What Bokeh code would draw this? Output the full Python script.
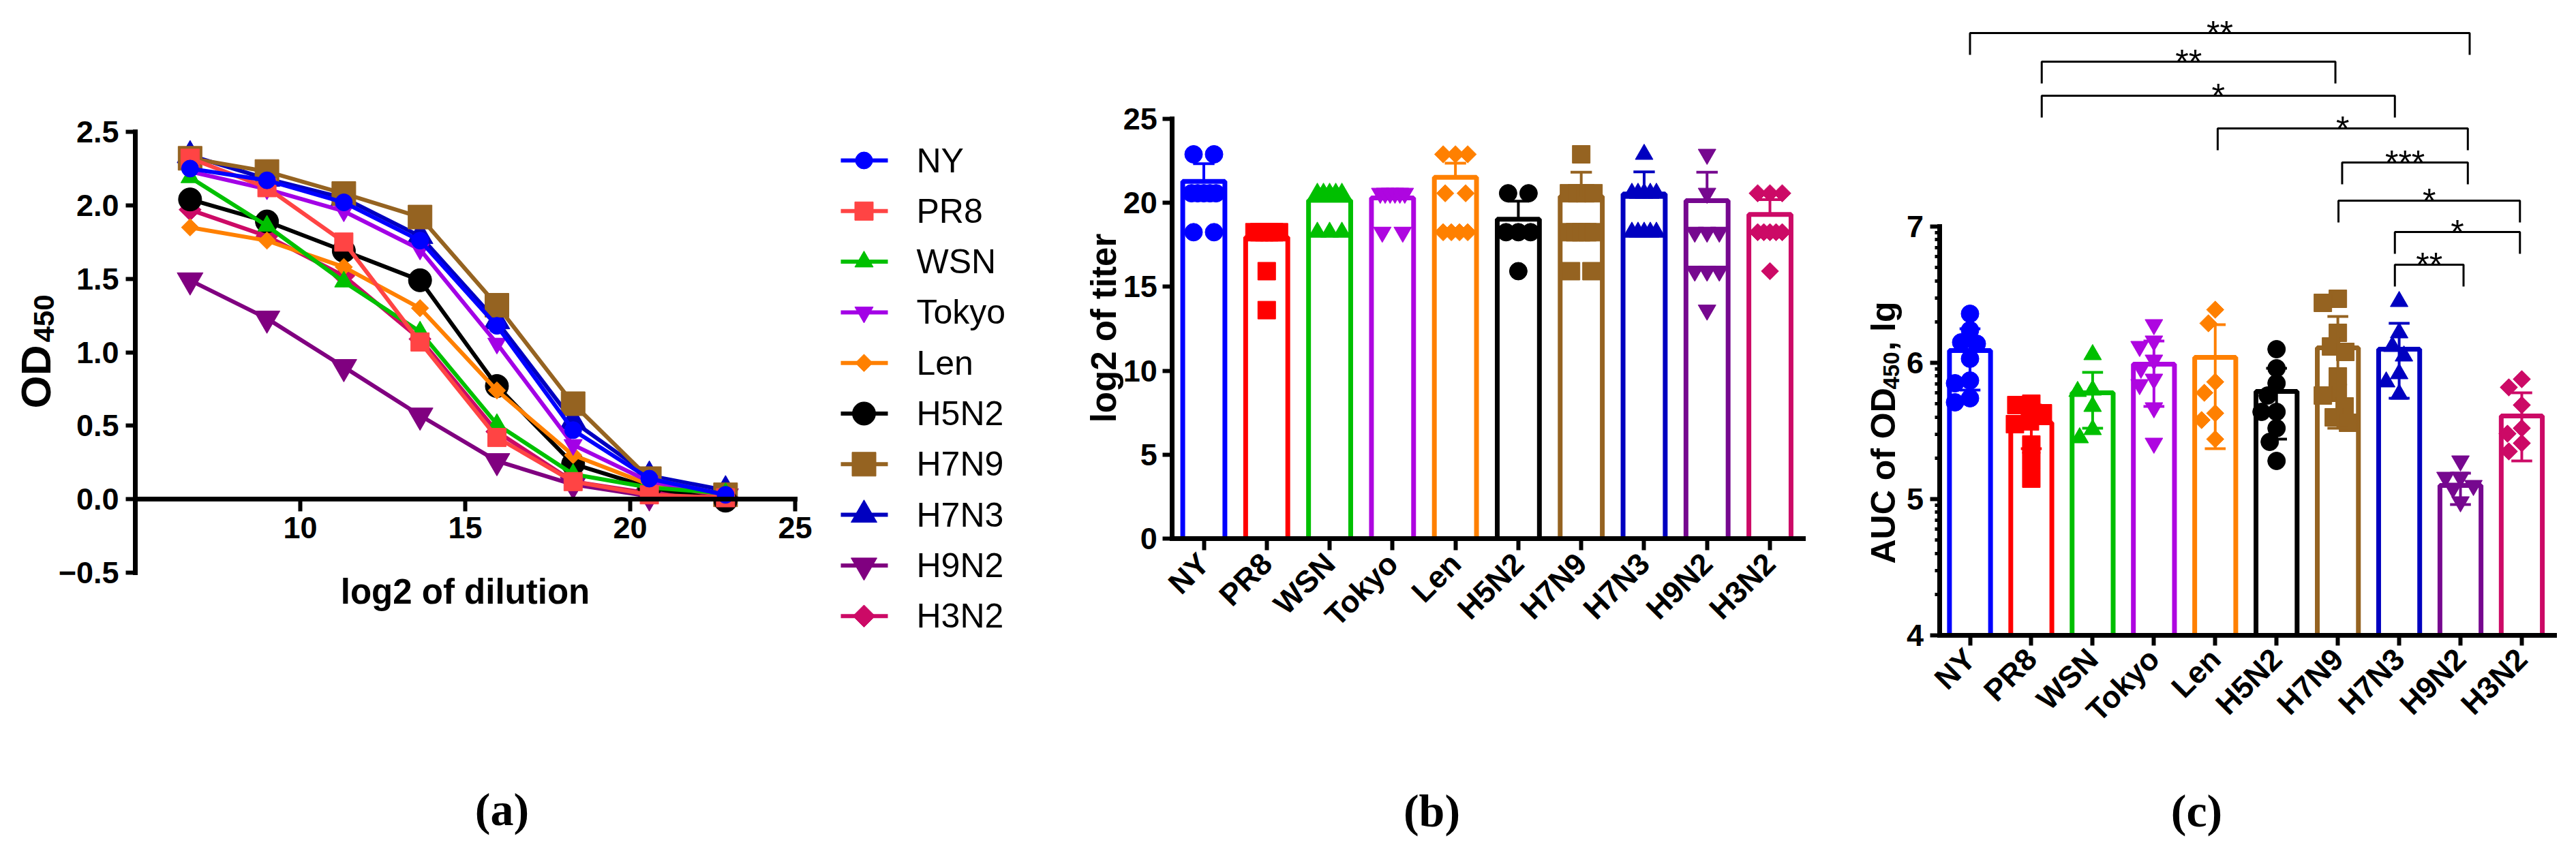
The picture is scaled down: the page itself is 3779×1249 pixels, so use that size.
import math
from collections import defaultdict

from bokeh.core.properties import value
from bokeh.embed import file_html
from bokeh.layouts import row
from bokeh.models import CustomJSTickFormatter, FixedTicker, Label, Range1d
from bokeh.plotting import figure
from bokeh.resources import INLINE

STRAINS = ["NY", "PR8", "WSN", "Tokyo", "Len", "H5N2", "H7N9", "H7N3", "H9N2", "H3N2"]

# (a) OD450 read at each log2 dilution
DILUTION_LOG2 = [6.66, 8.99, 11.32, 13.63, 15.96, 18.27, 20.58, 22.89]
od_ny = [2.25, 2.17, 2.02, 1.76, 1.18, 0.47, 0.14, 0.03]
od_pr8 = [2.32, 2.12, 1.75, 1.07, 0.42, 0.12, 0.03, 0.01]
od_wsn = [2.19, 1.86, 1.48, 1.14, 0.51, 0.17, 0.08, 0.04]
od_tokyo = [2.23, 2.11, 1.96, 1.70, 1.06, 0.37, 0.12, 0.03]
od_len = [1.85, 1.76, 1.58, 1.30, 0.74, 0.30, 0.10, 0.03]
od_h5n2 = [2.04, 1.89, 1.69, 1.49, 0.77, 0.24, 0.08, -0.01]
od_h7n9 = [2.32, 2.23, 2.08, 1.92, 1.32, 0.65, 0.14, 0.03]
od_h7n3 = [2.34, 2.18, 2.05, 1.79, 1.21, 0.53, 0.16, 0.06]
od_h9n2 = [1.49, 1.23, 0.90, 0.57, 0.26, 0.10, 0.02, 0.02]
od_h3n2 = [1.97, 1.79, 1.52, 1.09, 0.46, 0.12, 0.04, 0.03]

# (b) log2 of titer, single animals and bar heights
titer_ny = [22.89, 22.89, 20.57, 20.57, 20.57, 20.57, 20.57, 18.25, 18.25]
titer_pr8 = [18.25, 18.25, 18.25, 18.25, 18.25, 18.25, 15.93, 13.61]
titer_wsn = [20.57, 20.57, 20.57, 20.57, 20.57, 18.25, 18.25, 18.25]
titer_tokyo = [20.57, 20.57, 20.57, 20.57, 20.57, 20.57, 18.25, 18.25]
titer_len = [22.89, 22.89, 22.89, 20.57, 20.57, 18.25, 18.25, 18.25, 18.25]
titer_h5n2 = [20.57, 20.57, 18.25, 18.25, 18.25, 15.93]
titer_h7n9 = [22.89, 20.57, 20.57, 20.57, 20.57, 18.25, 18.25, 18.25, 18.25, 18.25, 15.93, 15.93]
titer_h7n3 = [22.89, 20.57, 20.57, 20.57, 20.57, 20.57, 18.25, 18.25, 18.25, 18.25, 18.25]
titer_h9n2 = [22.89, 20.57, 18.25, 18.25, 18.25, 15.93, 15.93, 15.93, 13.61]
titer_h3n2 = [20.57, 20.57, 20.57, 18.25, 18.25, 18.25, 18.25, 18.25, 15.93]
TITER_MEAN = [21.28, 17.95, 20.15, 20.29, 21.52, 19.02, 20.38, 20.53, 20.13, 19.31]
TITER_ERR_TOP = [22.33, 18.25, 20.57, 20.77, 22.36, 20.10, 21.82, 21.84, 21.82, 20.19]

# (c) AUC of OD450 (lg), single animals and bar heights
auc_ny = [6.36, 6.24, 6.15, 6.14, 6.03, 5.87, 5.85, 5.74, 5.71]
auc_pr8 = [5.70, 5.69, 5.63, 5.57, 5.55, 5.40, 5.28, 5.15]
auc_wsn = [6.06, 5.80, 5.79, 5.68, 5.51, 5.45]
auc_tokyo = [6.28, 6.16, 6.12, 6.02, 5.96, 5.88, 5.84, 5.67, 5.41]
auc_len = [6.39, 6.29, 5.86, 5.78, 5.63, 5.58, 5.44]
auc_h5n2 = [6.10, 5.96, 5.85, 5.76, 5.64, 5.64, 5.52, 5.42, 5.28]
auc_h7n9 = [6.47, 6.44, 6.22, 6.12, 6.08, 5.90, 5.78, 5.76, 5.68, 5.60, 5.56]
auc_h7n3 = [6.45, 6.22, 6.12, 6.05, 5.92, 5.86, 5.77]
auc_h9n2 = [5.28, 5.16, 5.16, 5.10, 5.08, 4.98]
auc_h3n2 = [5.88, 5.82, 5.69, 5.52, 5.48, 5.41, 5.35]
AUC_MEAN = [6.09, 5.56, 5.78, 5.99, 6.04, 5.79, 6.11, 6.10, 5.10, 5.61]
AUC_ERR_HI = [6.25, 5.69, 5.93, 6.16, 6.28, 5.96, 6.34, 6.29, 5.19, 5.78]
AUC_ERR_LO = [5.80, 5.37, 5.52, 5.68, 5.37, 5.44, 5.52, 5.74, 4.96, 5.28]

# significance brackets of (c): ends in category units, level in lg units
BRACKET_LEFT = [0.0, 1.17, 1.17, 4.04, 6.07, 6.01, 6.93, 6.93]
BRACKET_RIGHT = [8.15, 5.96, 6.93, 8.12, 8.12, 8.97, 8.97, 8.05]
BRACKET_LEVEL = [8.42, 8.21, 7.96, 7.72, 7.47, 7.19, 6.96, 6.72]
BRACKET_STARS = ["**", "**", "*", "*", "***", "*", "*", "**"]

OD = [od_ny, od_pr8, od_wsn, od_tokyo, od_len, od_h5n2, od_h7n9, od_h7n3, od_h9n2, od_h3n2]
TITER = [titer_ny, titer_pr8, titer_wsn, titer_tokyo, titer_len, titer_h5n2,
         titer_h7n9, titer_h7n3, titer_h9n2, titer_h3n2]
AUC = [auc_ny, auc_pr8, auc_wsn, auc_tokyo, auc_len, auc_h5n2, auc_h7n9,
       auc_h7n3, auc_h9n2, auc_h3n2]

COLORS_A = ["#0000FF", "#FF4444", "#00C000", "#A300E6", "#FF8000",
            "#000000", "#956321", "#0000C0", "#800080", "#CC0A66"]
COLORS_BC = ["#0000FF", "#FF0000", "#00BF00", "#AE06E0", "#FF8000",
             "#000000", "#956321", "#0000C0", "#76088F", "#CC0A66"]
MARKERS = ["circle", "square", "triangle", "inverted_triangle", "diamond",
           "circle", "square", "triangle", "inverted_triangle", "diamond"]
SIZES_A = [25, 27, 27, 27, 18, 34, 35, 38, 38, 23]

SANS = "Liberation Sans"
SERIF = "Liberation Serif"
PAGE_TOP, PAGE_BOTTOM = 8, 1241


def mapper(xv, xpage, ppu_x, yv, ypage, ppu_y):
    # page pixel -> data value, for placing texts next to the axes
    def fx(px):
        return xv + (px - xpage) / ppu_x

    def fy(py):
        return yv + (ypage - py) / ppu_y
    return fx, fy


def new_figure(left, width, fx, fy):
    p = figure(width=width, height=PAGE_BOTTOM - PAGE_TOP, title=None,
               x_range=Range1d(fx(left), fx(left + width)),
               y_range=Range1d(fy(PAGE_BOTTOM), fy(PAGE_TOP)),
               output_backend="svg", toolbar_location=None,
               min_border_left=0, min_border_right=0,
               min_border_top=0, min_border_bottom=0)
    p.outline_line_color = None
    p.grid.visible = False
    p.background_fill_color = "white"
    return p


def draw_marker(p, x, y, kind, size, color):
    if kind == "diamond":
        return p.scatter(x, y, marker="square", angle=math.pi / 4, size=size,
                         fill_color=color, line_color=color)
    return p.scatter(x, y, marker=kind, size=size, fill_color=color, line_color=color)


def style_axis(ax, tick_out=14, standoff=10):
    ax.axis_line_width = 7
    ax.axis_line_color = "black"
    ax.axis_line_cap = "square"
    ax.major_tick_line_width = 6
    ax.major_tick_line_color = "black"
    ax.major_tick_out = tick_out
    ax.major_tick_in = 0
    ax.minor_tick_line_color = None
    ax.major_label_standoff = standoff
    ax.major_label_text_font = SANS
    ax.major_label_text_font_size = "45px"
    ax.major_label_text_font_style = "bold"
    ax.major_label_text_color = "black"


def text_label(p, x, y, text, size, angle=0.0, align="left",
               baseline="alphabetic", font=SANS, style="bold"):
    p.add_layout(Label(x=x, y=y, text=text, angle=angle, text_align=align,
                       text_baseline=baseline, text_font=font, text_font_size=size,
                       text_font_style=style, text_color="black"))


def row_offsets(vals, px_per_unit):
    # points that share a titer are spread across the bar
    groups = defaultdict(list)
    for i, v in enumerate(vals):
        groups[v].append(i)
    offs = [0.0] * len(vals)
    for idx in groups.values():
        n = len(idx)
        gap = min(30.0, 36.0 / (n - 1)) if n > 1 else 0.0
        for k, i in enumerate(idx):
            offs[i] = (k - (n - 1) / 2) * gap / px_per_unit
    return offs


def swarm_offsets(vals, px_x, px_y, dist=22, limit=30):
    placed = []
    offs = [0.0] * len(vals)
    cands = sorted(range(-limit, limit + 1), key=lambda c: (abs(c), c))
    for i in sorted(range(len(vals)), key=lambda j: -vals[j]):
        y = vals[i] * px_y
        best, best_d = 0, -1.0
        for c in cands:
            d = min((math.hypot(c - qx, y - qy) for qx, qy in placed), default=1e9)
            if d >= dist:
                best = c
                break
            if d > best_d:
                best_d, best = d, c
        placed.append((best, y))
        offs[i] = best / px_x
    return offs


# ---------------- (a) ----------------
fxa, fya = mapper(25, 1174, 48.4, 2.5, 201, 215.67)
pa = new_figure(8, 1532, fxa, fya)
style_axis(pa.xaxis[0], tick_out=18, standoff=8)
style_axis(pa.yaxis[0], tick_out=14, standoff=10)
pa.xaxis.fixed_location = 0
pa.xaxis.bounds = (5, 25)
pa.yaxis.fixed_location = 5
pa.yaxis.bounds = (-0.5, 2.5)
pa.xaxis.ticker = FixedTicker(ticks=[10, 15, 20, 25])
pa.yaxis.ticker = FixedTicker(ticks=[-0.5, 0, 0.5, 1, 1.5, 2, 2.5])
pa.yaxis.formatter = CustomJSTickFormatter(code="return tick.toFixed(1).replace('-', '\u2212');")

for i in reversed(range(len(STRAINS))):
    pa.line(DILUTION_LOG2, OD[i], line_color=COLORS_A[i], line_width=6)
    draw_marker(pa, DILUTION_LOG2, OD[i], MARKERS[i], SIZES_A[i], COLORS_A[i])

# legend, drawn as swatches beside the plot
rows_y = [fya(243 + 74.3 * k) for k in range(len(STRAINS))]
pa.segment(x0=fxa(1241), x1=fxa(1310), y0=rows_y, y1=rows_y,
           line_color=COLORS_A, line_width=6)
for i in range(len(STRAINS)):
    draw_marker(pa, [fxa(1275)], [rows_y[i]], MARKERS[i], SIZES_A[i], COLORS_A[i])
pa.text(x=fxa(1352), y=rows_y, text=STRAINS, text_align="left", text_baseline="middle",
        text_font=value(SANS), text_font_size="50px", text_color="black")

text_label(pa, fxa(60), fya(607), "OD", "62px", angle=math.pi / 2)
text_label(pa, fxa(72), fya(440), "450", "42px", angle=math.pi / 2, align="right")
text_label(pa, fxa(690), fya(876), "log2 of dilution", "51px", align="center")
text_label(pa, fxa(744), fya(1195), "(a)", "68px", align="center", baseline="middle",
           font=SERIF)

# ---------------- (b) ----------------
XS = list(range(len(STRAINS)))
fxb, fyb = mapper(0, 1773.5, 92.28, 0, 798, 24.64)
pb = new_figure(1540, 1160, fxb, fyb)
style_axis(pb.xaxis[0], tick_out=17, standoff=12)
style_axis(pb.yaxis[0], tick_out=14, standoff=8)
pb.xaxis.fixed_location = 0
pb.xaxis.bounds = (-0.5, 9.53)
pb.yaxis.fixed_location = -0.5
pb.yaxis.bounds = (0, 25)
pb.yaxis.ticker = FixedTicker(ticks=[0, 5, 10, 15, 20, 25])
pb.xaxis.ticker = FixedTicker(ticks=XS)
pb.xaxis.major_label_overrides = {i: s for i, s in enumerate(STRAINS)}
pb.xaxis.major_label_orientation = math.pi / 4

pb.vbar(x=XS, top=TITER_MEAN, bottom=0, width=0.67, fill_color="white",
        line_color=COLORS_BC, line_width=7)
for i in XS:
    offs = row_offsets(TITER[i], 92.28)
    draw_marker(pb, [i + o for o in offs], TITER[i], MARKERS[i],
                18 if MARKERS[i] == "diamond" else 26, COLORS_BC[i])
pb.segment(x0=XS, y0=TITER_MEAN, x1=XS, y1=TITER_ERR_TOP, line_color=COLORS_BC, line_width=4)
pb.segment(x0=[x - 0.17 for x in XS], y0=TITER_ERR_TOP, x1=[x + 0.17 for x in XS],
           y1=TITER_ERR_TOP, line_color=COLORS_BC, line_width=4)

text_label(pb, fxb(1627), fyb(489), "log2 of titer", "51px", angle=math.pi / 2,
           align="center")
text_label(pb, fxb(2108), fyb(1197), "(b)", "68px", align="center", baseline="middle",
           font=SERIF)

# ---------------- (c) ----------------
fxc, fyc = mapper(0, 2897.5, 89.94, 4, 940, 200.0)
pc = new_figure(2700, 1071, fxc, fyc)
style_axis(pc.xaxis[0], tick_out=15, standoff=12)
style_axis(pc.yaxis[0], tick_out=14, standoff=9)
pc.xaxis.fixed_location = 4
pc.xaxis.bounds = (-0.5, 9.53)
pc.yaxis.fixed_location = -0.5
pc.yaxis.bounds = (4, 7)
pc.yaxis.ticker = FixedTicker(ticks=[4, 5, 6, 7],
                              minor_ticks=[d + math.log10(k) for d in (4, 5, 6) for k in range(2, 10)])
pc.yaxis.minor_tick_line_color = "black"
pc.yaxis.minor_tick_line_width = 5
pc.yaxis.minor_tick_out = 7
pc.yaxis.minor_tick_in = 0
pc.xaxis.ticker = FixedTicker(ticks=XS)
pc.xaxis.major_label_overrides = {i: s for i, s in enumerate(STRAINS)}
pc.xaxis.major_label_orientation = math.pi / 4

pc.vbar(x=XS, top=AUC_MEAN, bottom=4, width=0.67, fill_color="white",
        line_color=COLORS_BC, line_width=7)
for i in XS:
    offs = swarm_offsets(AUC[i], 89.94, 200.0)
    draw_marker(pc, [i + o for o in offs], AUC[i], MARKERS[i],
                18 if MARKERS[i] == "diamond" else 26, COLORS_BC[i])
pc.segment(x0=XS, y0=AUC_ERR_LO, x1=XS, y1=AUC_ERR_HI, line_color=COLORS_BC, line_width=4)
for ends in (AUC_ERR_HI, AUC_ERR_LO):
    pc.segment(x0=[x - 0.17 for x in XS], y0=ends, x1=[x + 0.17 for x in XS], y1=ends,
               line_color=COLORS_BC, line_width=4)

drop = 0.16
pc.multi_line(xs=[[l, l, r, r] for l, r in zip(BRACKET_LEFT, BRACKET_RIGHT)],
              ys=[[h - drop, h, h, h - drop] for h in BRACKET_LEVEL],
              line_color="black", line_width=3)
pc.text(x=[(l + r) / 2 for l, r in zip(BRACKET_LEFT, BRACKET_RIGHT)], y=BRACKET_LEVEL,
        text=BRACKET_STARS, text_align="center", text_baseline="alphabetic",
        text_font=value(SANS), text_font_size="50px", text_color="black")

text_label(pc, fxc(2770), fyc(835), "AUC of OD", "50px", angle=math.pi / 2)
text_label(pc, fxc(2782), fyc(579), "450", "33px", angle=math.pi / 2)
text_label(pc, fxc(2770), fyc(450), ", lg", "50px", angle=math.pi / 2, align="right")
text_label(pc, fxc(3230), fyc(1197), "(c)", "68px", align="center", baseline="middle",
           font=SERIF)

layout = row(pa, pb, pc, spacing=0)
open("out.html", "w").write(file_html(layout, INLINE))
